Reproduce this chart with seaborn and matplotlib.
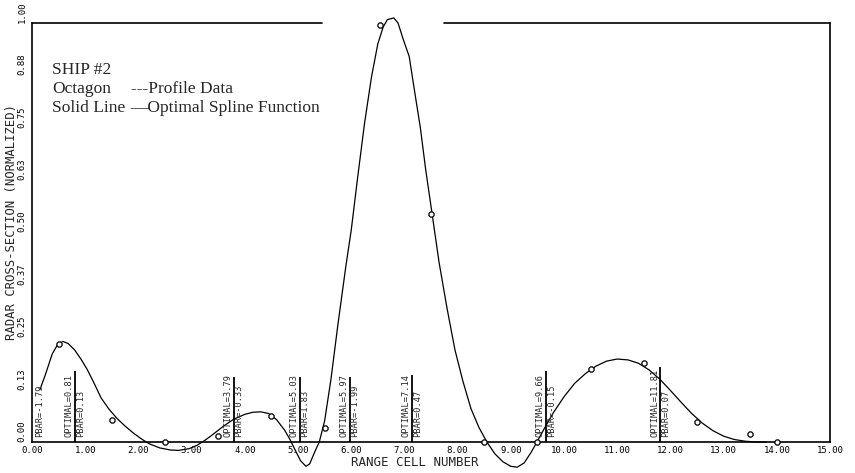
import matplotlib
matplotlib.use("Agg")
import matplotlib.pyplot as plt
import seaborn as sns
import pandas as pd

# Octagons: profile data
profile_x = [0.5, 1.5, 2.5, 3.5, 4.5, 5.5, 6.55, 7.5, 8.5, 9.5, 10.5, 11.5, 12.5, 13.5, 14.0]
profile_y = [0.233, 0.052, 0.0, 0.014, 0.061, 0.033, 0.995, 0.545, 0.0, 0.0,
             0.175, 0.189, 0.047, 0.02, 0.0]

# Solid line: optimal spline function
spline_x = [0.15, 0.25, 0.38, 0.48, 0.58, 0.68, 0.80, 0.92, 1.03, 1.15, 1.30, 1.45,
            1.60, 1.75, 1.90, 2.05, 2.20, 2.40, 2.60, 2.75, 2.95, 3.10, 3.25, 3.40,
            3.60, 3.80, 4.00, 4.15, 4.30, 4.45, 4.60, 4.75, 4.85, 4.95, 5.05, 5.15,
            5.22, 5.32, 5.40, 5.50, 5.62, 5.75, 5.90, 6.00, 6.12, 6.25, 6.38, 6.50,
            6.60, 6.68, 6.80, 6.88, 6.98, 7.09, 7.20, 7.30, 7.40, 7.52, 7.65, 7.80,
            7.95, 8.10, 8.25, 8.40, 8.55, 8.70, 8.85, 9.00, 9.12, 9.25, 9.38, 9.50,
            9.62, 9.80, 10.00, 10.20, 10.40, 10.60, 10.80, 11.00, 11.20, 11.40, 11.60,
            11.80, 12.00, 12.20, 12.40, 12.60, 12.80, 13.00, 13.20, 13.40, 13.60, 13.80]
spline_y = [0.125, 0.16, 0.21, 0.232, 0.24, 0.235, 0.22, 0.198, 0.175, 0.145, 0.105, 0.078,
            0.056, 0.038, 0.022, 0.008, -0.004, -0.014, -0.019, -0.020, -0.016, -0.008, 0.004, 0.018,
            0.038, 0.055, 0.066, 0.071, 0.072, 0.068, 0.053, 0.028, 0.006, -0.02, -0.045, -0.058,
            -0.052, -0.022, 0.0, 0.05, 0.15, 0.28, 0.42, 0.505, 0.63, 0.76, 0.87, 0.95,
            0.99, 1.008, 1.012, 1.0, 0.96, 0.92, 0.83, 0.75, 0.65, 0.545, 0.43, 0.32,
            0.22, 0.145, 0.08, 0.035, 0.0, -0.028, -0.047, -0.058, -0.06, -0.05, -0.025, 0.002,
            0.03, 0.07, 0.108, 0.14, 0.163, 0.181, 0.193, 0.198, 0.196, 0.188, 0.172,
            0.15, 0.123, 0.095, 0.068, 0.045, 0.027, 0.014, 0.006, 0.002, 0.0, 0.0]

# knot markers
knot_x = [0.81, 3.79, 5.03, 5.97, 7.14, 9.66, 11.81]
knot_top = [0.17, 0.155, 0.155, 0.155, 0.16, 0.17, 0.18]
optimal_text = ["OPTIMAL=0.81", "OPTIMAL=3.79", "OPTIMAL=5.03", "OPTIMAL=5.97",
                "OPTIMAL=7.14", "OPTIMAL=9.66", "OPTIMAL=11.81"]
pbar_text = ["PBAR=0.13", "PBAR=-0.33", "PBAR=1.83", "PBAR=-1.99",
             "PBAR=0.47", "PBAR=-0.15", "PBAR=0.07"]
pbar_start = "PBAR=-1.79"

xticks = list(range(16))
xtick_labels = ["%d.00" % v for v in xticks]
yticks = [0, 0.125, 0.25, 0.375, 0.5, 0.625, 0.75, 0.875, 1.0]
ytick_labels = ["0.00", "0.13", "0.25", "0.37", "0.50", "0.63", "0.75", "0.88", "1.00"]

# the plotter left a gap in the top frame line around the peak
top_frame = [(0.0, 5.45), (7.74, 15.0)]

sns.set_style("white")
plt.rcParams["font.family"] = ["DejaVu Sans Mono"]

fig = plt.figure(figsize=(8.55, 4.73), dpi=100)
ax = fig.add_axes([0.0374, 0.0655, 0.9334, 0.886])

spline = pd.DataFrame({"x": spline_x, "y": spline_y})
profile = pd.DataFrame({"x": profile_x, "y": profile_y})

sns.lineplot(data=spline, x="x", y="y", sort=False, estimator=None,
             color="black", linewidth=0.9, ax=ax)
ax.lines[-1].set_clip_on(False)
sns.scatterplot(data=profile, x="x", y="y", marker="8", s=16, color="white",
                edgecolor="black", linewidth=0.9, zorder=4, clip_on=False, ax=ax)

ax.vlines(knot_x, 0, knot_top, color="black", linewidth=1.3)
for kx, opt, pb in zip(knot_x, optimal_text, pbar_text):
    ax.annotate(opt, xy=(kx, 0.012), xytext=(-0.8, 0), textcoords="offset points",
                rotation=90, ha="right", va="bottom", fontsize=6.2)
    ax.annotate(pb, xy=(kx, 0.012), xytext=(0.6, 0), textcoords="offset points",
                rotation=90, ha="left", va="bottom", fontsize=6.2)
ax.annotate(pbar_start, xy=(0, 0.012), xytext=(2.5, 0), textcoords="offset points",
            rotation=90, ha="left", va="bottom", fontsize=6.2)

for x0, x1 in top_frame:
    ax.plot([x0, x1], [1, 1], color="black", linewidth=1.2, clip_on=False)

ax.set_xlim(0, 15)
ax.set_ylim(0, 1)
ax.spines["top"].set_visible(False)
for side in ["left", "bottom", "right"]:
    ax.spines[side].set_linewidth(1.2)
    ax.spines[side].set_color("black")

ax.set_xticks(xticks)
ax.set_xticklabels(xtick_labels, fontsize=6.5)
ax.set_yticks(yticks)
# plotter wrote the y labels starting at the tick, reading upward
ax.set_yticklabels(ytick_labels, fontsize=6.5, rotation=90, va="bottom")
ax.tick_params(axis="x", direction="inout", length=3, width=0.8, pad=1.5, colors="black")
ax.tick_params(axis="y", direction="inout", length=3, width=0.8, pad=2.5, colors="black")

ax.set_xlabel("RANGE CELL NUMBER", fontsize=9, labelpad=0)
ax.xaxis.set_label_coords(0.48, -0.034)
ax.set_ylabel("RADAR CROSS-SECTION (NORMALIZED)", fontsize=8.8, labelpad=0)
ax.yaxis.set_label_coords(-0.0175, 0.525)

serif = ["Liberation Serif", "DejaVu Serif"]
ax.text(0.38, 0.878, "SHIP #2", family=serif, fontsize=12.5)
ax.text(0.38, 0.833, "Octagon", family=serif, fontsize=12.5)
ax.text(1.86, 0.833, "---Profile Data", family=serif, fontsize=12.5)
ax.text(0.38, 0.788, "Solid Line", family=serif, fontsize=12.5)
ax.text(1.84, 0.788, "\u2014Optimal Spline Function", family=serif, fontsize=12.5)

fig.savefig("out.png", dpi=100, facecolor="white")
